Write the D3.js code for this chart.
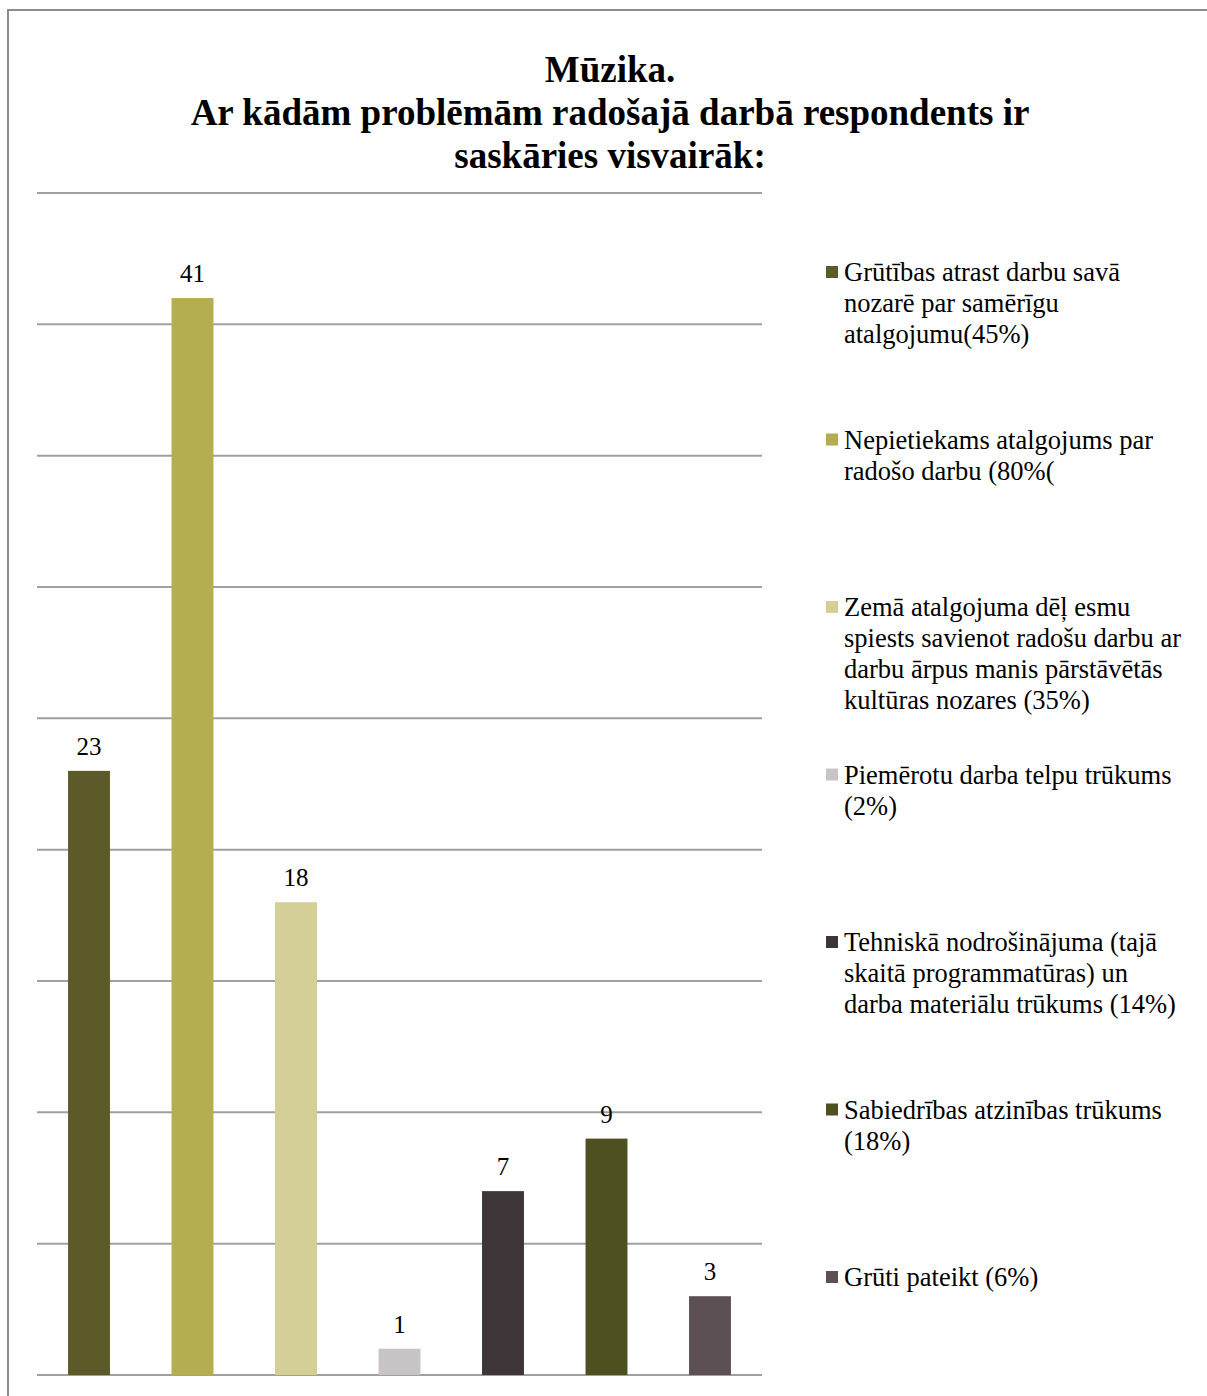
<!DOCTYPE html>
<html><head><meta charset="utf-8">
<script src="https://cdn.jsdelivr.net/npm/d3@7"></script>
<style>body{margin:0;background:#fff}svg{display:block}</style>
</head><body>
<script>
const categories = [
  ["Grūtības atrast darbu savā","nozarē par samērīgu","atalgojumu(45%)"],
  ["Nepietiekams atalgojums par","radošo darbu (80%("],
  ["Zemā atalgojuma dēļ esmu","spiests savienot radošu darbu ar","darbu ārpus manis pārstāvētās","kultūras nozares (35%)"],
  ["Piemērotu darba telpu trūkums","(2%)"],
  ["Tehniskā nodrošinājuma (tajā","skaitā programmatūras) un","darba materiālu trūkums (14%)"],
  ["Sabiedrības atzinības trūkums","(18%)"],
  ["Grūti pateikt (6%)"]
];
const values = [23, 41, 18, 1, 7, 9, 3];
const colors = ["#5c5a28","#b5ae51","#d4cf97","#c8c3c5","#3d3537","#4e5020","#5c5055"];
const yTicks = [0,5,10,15,20,25,30,35,40,45];
const titleLines = ["Mūzika.","Ar kādām problēmām radošajā darbā respondents ir","saskāries visvairāk:"];

const W = 1207, H = 1396;
const svg = d3.select("body").append("svg").attr("width", W).attr("height", H);
svg.append("rect").attr("x",8).attr("y",10).attr("width",W+20).attr("height",H+20)
  .attr("fill","#fff").attr("stroke","#8c8c8c").attr("stroke-width",2);

const font = "'Liberation Serif','Times New Roman',serif";
svg.append("g").selectAll("text").data(titleLines).join("text")
  .attr("x", 610).attr("y", (d,i)=>82 + i*43)
  .attr("text-anchor","middle").attr("font-family",font).attr("font-weight","bold")
  .attr("font-size",37).attr("fill","#000").text(d=>d);

const x = d3.scaleBand().domain(d3.range(values.length)).range([37, 762]).paddingInner(0.595).paddingOuter(0.3);
const y = d3.scaleLinear().domain([0,45]).range([1375, 193]);

const grid = svg.append("g");
grid.selectAll("line").data(yTicks).join("line")
  .attr("x1",37).attr("x2",762).attr("y1",d=>y(d)).attr("y2",d=>y(d))
  .attr("stroke","#a0a0a0").attr("stroke-width",2);

svg.append("g").selectAll("rect").data(values).join("rect")
  .attr("x",(d,i)=>x(i)).attr("width",x.bandwidth())
  .attr("y",d=>y(d)).attr("height",d=>y(0)-y(d))
  .attr("fill",(d,i)=>colors[i]);

svg.append("g").selectAll("text").data(values).join("text")
  .attr("x",(d,i)=>x(i)+x.bandwidth()/2).attr("y",d=>y(d)-16)
  .attr("text-anchor","middle").attr("font-family",font).attr("font-size",25)
  .attr("fill","#000").text(d=>d);

const lg = svg.append("g");
const legY = d3.scaleLinear().domain([0,6]).range([272, 1277]);
categories.forEach((lines,i)=>{
  const g = lg.append("g").attr("transform",`translate(0,${legY(i)})`);
  g.append("rect").attr("x",826).attr("y",-6).attr("width",12).attr("height",12).attr("fill",colors[i]);
  g.selectAll("text").data(lines).join("text")
    .attr("x",844).attr("y",(d,j)=>9 + j*31)
    .attr("font-family",font).attr("font-size",26.5).attr("fill","#000").text(d=>d);
});
</script>
</body></html>
